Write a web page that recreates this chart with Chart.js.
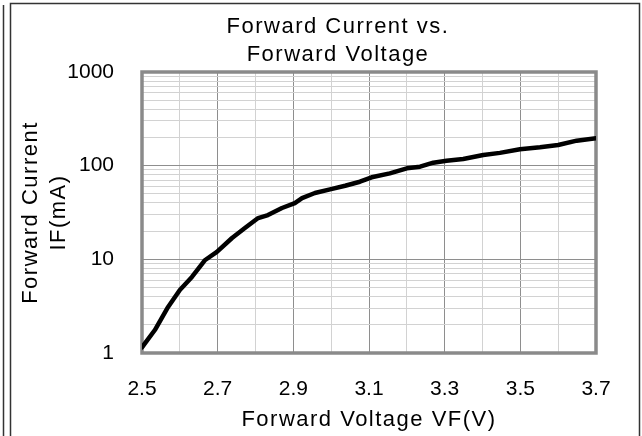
<!DOCTYPE html>
<html>
<head>
<meta charset="utf-8">
<script src="https://cdn.jsdelivr.net/npm/chart.js@4"></script>
<style>
  html, body { margin: 0; padding: 0; background: #ffffff; }
  #wrap { position: relative; width: 642px; height: 436px; }
</style>
</head>
<body>
<div id="wrap"><canvas id="c"></canvas></div>
<script>
// ---- data ----
const voltages = [2.50, 2.534, 2.569, 2.600, 2.632, 2.667, 2.698, 2.738, 2.772, 2.807, 2.833, 2.870, 2.904, 2.923, 2.957, 2.997, 3.037, 3.076, 3.107, 3.155, 3.200, 3.235, 3.270, 3.305, 3.349, 3.402, 3.446, 3.499, 3.552, 3.600, 3.649, 3.700];
const currents = [1.15, 1.76, 3.10, 4.71, 6.48, 9.84, 12.0, 16.9, 21.6, 27.6, 29.7, 35.3, 39.9, 45.1, 51.1, 55.9, 61.0, 67.4, 75.1, 82.8, 93.7, 97.5, 107.6, 113, 118, 130, 137, 150, 157, 166, 185, 196];

const xLabelValues = [2.5, 2.7, 2.9, 3.1, 3.3, 3.5, 3.7];
const yDecades = [1, 10, 100, 1000];
const yMinorSteps = [1, 2, 3, 4, 5, 6, 7, 8, 9];

const titleLines = ['Forward Current vs.', 'Forward Voltage'];
const xTitle = 'Forward Voltage VF(V)';
const yTitleLines = ['Forward Current', 'IF(mA)'];

// tick positions for the log axis (decades and 2..9 subdivisions)
const yTickValues = [];
yDecades.forEach((d, i) => {
  if (i === yDecades.length - 1) { yTickValues.push(d); return; }
  yMinorSteps.forEach(s => yTickValues.push(d * s));
});

const FONT = "'Liberation Sans', Arial, sans-serif";
const FS_TITLE = 22;
const FS_TICK = 21;
const SPACING = '1.5px';
const DARK_GRID = '#8e8e8e';
const LIGHT_GRID = '#d2d2d2';

const isXLabel = v => xLabelValues.some(l => Math.abs(l - v) < 1e-6);
const isDecade = v => yDecades.some(d => Math.abs(d - v) < 1e-9);

const decor = {
  id: 'decor',
  afterLayout(chart) {
    if (chart.$decorWrapped) return;
    chart.$decorWrapped = true;
    const ctx = chart.ctx;
    const tb = chart.titleBlock;
    if (tb) {
      const orig = tb.draw;
      tb.draw = function (area) {
        ctx.save();
        ctx.letterSpacing = SPACING;
        ctx.translate(40, 0);
        orig.call(this, area);
        ctx.restore();
      };
    }
    ['x', 'y'].forEach(id => {
      const s = chart.scales[id];
      const orig = s.drawTitle;
      s.drawTitle = function () {
        ctx.save();
        ctx.letterSpacing = SPACING;
        orig.call(this);
        ctx.restore();
      };
    });
  },
  beforeDatasetsDraw(chart) {
    const { ctx, chartArea: a } = chart;
    ctx.save();
    ctx.strokeStyle = '#8a8a8a';
    ctx.lineWidth = 3.5;
    ctx.strokeRect(a.left, a.top, a.right - a.left, a.bottom - a.top);
    ctx.restore();
  },
  afterDraw(chart) {
    const ctx = chart.ctx;
    const W = chart.width, H = chart.height;
    ctx.save();
    ctx.strokeStyle = '#333333';
    ctx.lineWidth = 1.5;
    ctx.beginPath();
    ctx.moveTo(3.5, 5); ctx.lineTo(3.5, H);
    ctx.moveTo(10.5, H); ctx.lineTo(10.5, 3.5); ctx.lineTo(W - 2.5, 3.5); ctx.lineTo(W - 2.5, H);
    ctx.stroke();
    ctx.restore();
  }
};

new Chart(document.getElementById('c'), {
  type: 'line',
  data: {
    datasets: [{
      data: voltages.map((v, i) => ({ x: v, y: currents[i] })),
      borderColor: '#000000',
      borderWidth: 4.5,
      pointRadius: 0,
      tension: 0,
      fill: false,
      borderCapStyle: 'round',
      borderJoinStyle: 'round'
    }]
  },
  options: {
    responsive: true,
    maintainAspectRatio: false,
    animation: false,
    devicePixelRatio: 1,
    layout: { padding: { left: 0, right: 46, top: 0, bottom: 0 } },
    plugins: {
      legend: { display: false },
      tooltip: { enabled: false },
      title: {
        display: true,
        text: titleLines,
        color: '#000000',
        font: { family: FONT, size: FS_TITLE, weight: 'normal', lineHeight: '28px' },
        padding: { top: 13, bottom: 3 }
      }
    },
    scales: {
      x: {
        type: 'linear',
        min: 2.5,
        max: 3.7,
        afterFit(s) { s.height = 83; },
        ticks: {
          stepSize: 0.1,
          autoSkip: false,
          maxRotation: 0,
          padding: 24,
          color: '#000000',
          font: { family: FONT, size: FS_TICK },
          callback: v => isXLabel(v) ? Number(v).toFixed(1) : ''
        },
        grid: {
          drawTicks: false,
          lineWidth: 1,
          color: c => isXLabel(c.tick.value) ? DARK_GRID : LIGHT_GRID
        },
        border: { display: false },
        title: {
          display: true,
          text: xTitle,
          color: '#000000',
          font: { family: FONT, size: FS_TITLE, lineHeight: '24px' },
          padding: { top: 0, bottom: 4 }
        }
      },
      y: {
        type: 'logarithmic',
        min: 1,
        max: 1000,
        afterFit(s) { s.width = 142; },
        afterBuildTicks(s) { s.ticks = yTickValues.map(v => ({ value: v })); },
        ticks: {
          autoSkip: false,
          padding: 28,
          color: '#000000',
          font: { family: FONT, size: FS_TICK },
          callback: v => isDecade(v) ? String(v) : ''
        },
        grid: {
          drawTicks: false,
          lineWidth: 1,
          color: c => isDecade(c.tick.value) ? DARK_GRID : LIGHT_GRID
        },
        border: { display: false },
        title: {
          display: true,
          text: yTitleLines,
          color: '#000000',
          font: { family: FONT, size: FS_TITLE, lineHeight: '28px' },
          padding: { top: 17, bottom: 0 }
        }
      }
    }
  },
  plugins: [decor]
});
</script>
</body>
</html>
